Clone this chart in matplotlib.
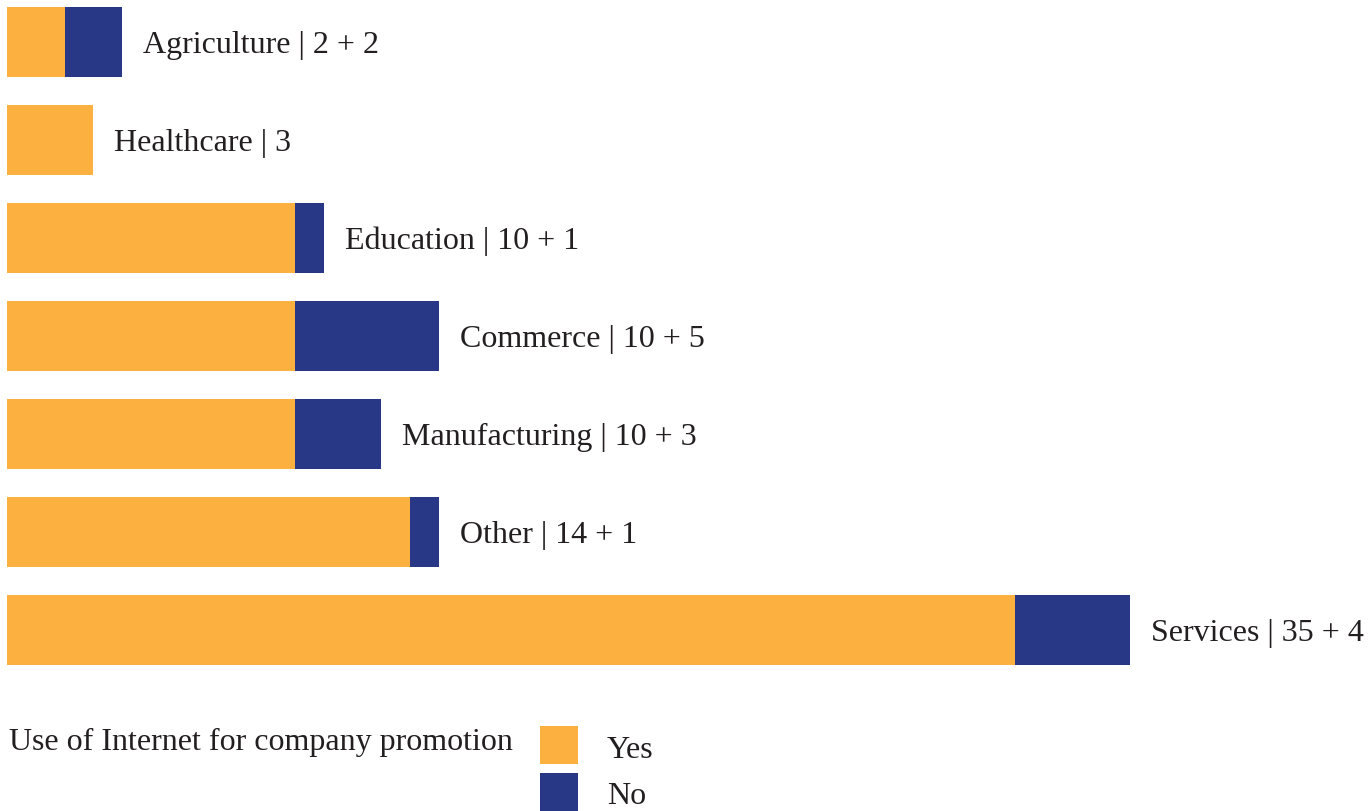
import matplotlib.pyplot as plt
from matplotlib.patches import Rectangle

categories = ["Agriculture", "Healthcare", "Education", "Commerce", "Manufacturing", "Other", "Services"]
yes_values = [2, 3, 10, 10, 10, 14, 35]
no_values = [2, 0, 1, 5, 3, 1, 4]

YES_COLOR = "#FBB040"
NO_COLOR = "#283886"
TEXT_COLOR = "#231F20"

plt.rcParams["font.family"] = ["Liberation Serif", "DejaVu Serif"]

W, H = 1370, 811
fig = plt.figure(figsize=(W / 100, H / 100), dpi=100)
ax = fig.add_axes([0, 0, 1, 1])

px_per_unit = 28.8
row_px = 98
ax.set_xlim(-7 / px_per_unit, (W - 7) / px_per_unit)
ax.set_ylim((H - 42) / row_px, -42 / row_px)
ax.axis("off")

y = list(range(len(categories)))
bar_h = 70 / row_px
ax.barh(y, yes_values, height=bar_h, color=YES_COLOR, linewidth=0)
ax.barh(y, no_values, left=yes_values, height=bar_h, color=NO_COLOR, linewidth=0)

for i, cat in enumerate(categories):
    total = yes_values[i] + no_values[i]
    if no_values[i]:
        txt = f"{cat} | {yes_values[i]} + {no_values[i]}"
    else:
        txt = f"{cat} | {yes_values[i]}"
    ax.text(total + 0.72, i + 0.035, txt, ha="left", va="center", fontsize=23, color=TEXT_COLOR)

# legend
fig.text(9 / W, 1 - 742 / H, "Use of Internet for company promotion", ha="left", va="center",
         fontsize=23, color=TEXT_COLOR)
for j, (lab, col) in enumerate([("Yes", YES_COLOR), ("No", NO_COLOR)]):
    top = 726 + 47 * j
    fig.patches.append(Rectangle((540 / W, 1 - (top + 38) / H), 38 / W, 38 / H,
                                 transform=fig.transFigure, color=col, linewidth=0))
    fig.text(607 / W, 1 - (top + 24) / H, lab, ha="left", va="center", fontsize=23, color=TEXT_COLOR)

fig.savefig("out.png", dpi=100)
